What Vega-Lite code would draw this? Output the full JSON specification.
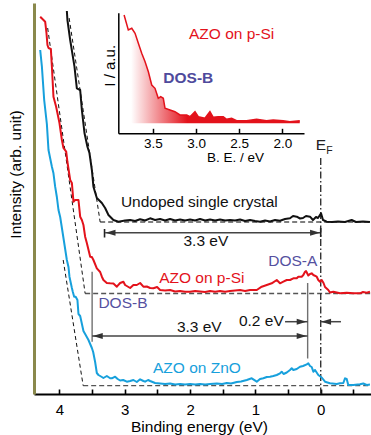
{
 "$schema": "https://vega.github.io/schema/vega-lite/v6.json",
 "width": 337, "height": 391,
 "autosize": {"type": "none"},
 "padding": {"left": 34, "top": 3, "right": 0, "bottom": 41},
 "background": "white",
 "config": {"view": {"stroke": null}, "font": "Liberation Sans", "axis": {"grid": false}},
 "datasets": {
  "curves": [
   {"s":"u","E":3.887,"I":383},{"s":"u","E":3.878,"I":374},{"s":"u","E":3.836,"I":354},{"s":"u","E":3.770,"I":327.3},{"s":"u","E":3.734,"I":305.7},{"s":"u","E":3.683,"I":304},{"s":"u","E":3.657,"I":284},{"s":"u","E":3.617,"I":261},{"s":"u","E":3.572,"I":247.3},{"s":"u","E":3.541,"I":241},{"s":"u","E":3.504,"I":224},{"s":"u","E":3.480,"I":207.3},{"s":"u","E":3.428,"I":196},{"s":"u","E":3.351,"I":191},{"s":"u","E":3.301,"I":186},{"s":"u","E":3.250,"I":179},{"s":"u","E":3.174,"I":174},{"s":"u","E":3.097,"I":172.3},{"s":"u","E":2.995,"I":173.5},{"s":"u","E":2.918,"I":174},{"s":"u","E":2.842,"I":173},{"s":"u","E":2.766,"I":174.7},{"s":"u","E":2.689,"I":173.5},{"s":"u","E":2.612,"I":175.7},{"s":"u","E":2.536,"I":174},{"s":"u","E":2.459,"I":175},{"s":"u","E":2.383,"I":173.5},{"s":"u","E":2.306,"I":175},{"s":"u","E":2.230,"I":173.5},{"s":"u","E":2.153,"I":174.5},{"s":"u","E":2.077,"I":173.5},{"s":"u","E":2.000,"I":174.5},{"s":"u","E":1.923,"I":173.5},{"s":"u","E":1.847,"I":175},{"s":"u","E":1.770,"I":173.5},{"s":"u","E":1.694,"I":174.5},{"s":"u","E":1.617,"I":173.5},{"s":"u","E":1.541,"I":174.5},{"s":"u","E":1.464,"I":173.5},{"s":"u","E":1.388,"I":174},{"s":"u","E":1.311,"I":173.5},{"s":"u","E":1.235,"I":174.5},{"s":"u","E":1.158,"I":173},{"s":"u","E":1.082,"I":174},{"s":"u","E":1.005,"I":173},{"s":"u","E":0.929,"I":172.3},{"s":"u","E":0.852,"I":173.5},{"s":"u","E":0.776,"I":172.5},{"s":"u","E":0.699,"I":174},{"s":"u","E":0.623,"I":173.3},{"s":"u","E":0.546,"I":175},{"s":"u","E":0.470,"I":175.7},{"s":"u","E":0.424,"I":178},{"s":"u","E":0.367,"I":177.3},{"s":"u","E":0.317,"I":175.5},{"s":"u","E":0.271,"I":176},{"s":"u","E":0.225,"I":178},{"s":"u","E":0.164,"I":177.3},{"s":"u","E":0.118,"I":174},{"s":"u","E":0.072,"I":177},{"s":"u","E":0.041,"I":176},{"s":"u","E":-0.005,"I":180.7},{"s":"u","E":-0.035,"I":174},{"s":"u","E":-0.092,"I":172.3},{"s":"u","E":-0.173,"I":172},{"s":"u","E":-0.265,"I":172.5},{"s":"u","E":-0.372,"I":172},{"s":"u","E":-0.474,"I":174},{"s":"u","E":-0.540,"I":172},{"s":"u","E":-0.647,"I":172.5},{"s":"u","E":-0.754,"I":172},
   {"s":"p","E":4.295,"I":377.3},{"s":"p","E":4.245,"I":374},{"s":"p","E":4.219,"I":372.3},{"s":"p","E":4.199,"I":361},{"s":"p","E":4.184,"I":349},{"s":"p","E":4.168,"I":346},{"s":"p","E":4.132,"I":345},{"s":"p","E":4.116,"I":327.3},{"s":"p","E":4.092,"I":297.3},{"s":"p","E":4.051,"I":287.3},{"s":"p","E":4.000,"I":271},{"s":"p","E":3.963,"I":254},{"s":"p","E":3.939,"I":246},{"s":"p","E":3.897,"I":242.3},{"s":"p","E":3.878,"I":232},{"s":"p","E":3.836,"I":214},{"s":"p","E":3.810,"I":211},{"s":"p","E":3.786,"I":192.3},{"s":"p","E":3.760,"I":194},{"s":"p","E":3.709,"I":194},{"s":"p","E":3.683,"I":177.3},{"s":"p","E":3.657,"I":174},{"s":"p","E":3.633,"I":169},{"s":"p","E":3.607,"I":157.3},{"s":"p","E":3.581,"I":151},{"s":"p","E":3.530,"I":137.3},{"s":"p","E":3.504,"I":137},{"s":"p","E":3.480,"I":134},{"s":"p","E":3.428,"I":125.7},{"s":"p","E":3.377,"I":122},{"s":"p","E":3.351,"I":117.3},{"s":"p","E":3.327,"I":114},{"s":"p","E":3.275,"I":111},{"s":"p","E":3.224,"I":110.7},{"s":"p","E":3.174,"I":110.5},{"s":"p","E":3.122,"I":107.3},{"s":"p","E":3.071,"I":111},{"s":"p","E":3.021,"I":112.3},{"s":"p","E":2.995,"I":109},{"s":"p","E":2.918,"I":106},{"s":"p","E":2.868,"I":109},{"s":"p","E":2.816,"I":109},{"s":"p","E":2.765,"I":111},{"s":"p","E":2.715,"I":107.3},{"s":"p","E":2.663,"I":107.5},{"s":"p","E":2.612,"I":106},{"s":"p","E":2.562,"I":105.7},{"s":"p","E":2.505,"I":107},{"s":"p","E":2.459,"I":104},{"s":"p","E":2.383,"I":103.5},{"s":"p","E":2.306,"I":104},{"s":"p","E":2.230,"I":102.5},{"s":"p","E":2.153,"I":103},{"s":"p","E":2.077,"I":102.3},{"s":"p","E":2.000,"I":102.3},{"s":"p","E":1.923,"I":103},{"s":"p","E":1.847,"I":102.5},{"s":"p","E":1.770,"I":102},{"s":"p","E":1.694,"I":103},{"s":"p","E":1.617,"I":102.3},{"s":"p","E":1.541,"I":103},{"s":"p","E":1.464,"I":102.3},{"s":"p","E":1.388,"I":103},{"s":"p","E":1.311,"I":103.5},{"s":"p","E":1.235,"I":104},{"s":"p","E":1.158,"I":103},{"s":"p","E":1.082,"I":104},{"s":"p","E":0.979,"I":104},{"s":"p","E":0.903,"I":107.3},{"s":"p","E":0.826,"I":109},{"s":"p","E":0.750,"I":110.7},{"s":"p","E":0.673,"I":114},{"s":"p","E":0.623,"I":110.7},{"s":"p","E":0.572,"I":112.3},{"s":"p","E":0.520,"I":114},{"s":"p","E":0.470,"I":114},{"s":"p","E":0.419,"I":115.7},{"s":"p","E":0.367,"I":115.7},{"s":"p","E":0.343,"I":117.3},{"s":"p","E":0.291,"I":117.3},{"s":"p","E":0.266,"I":119},{"s":"p","E":0.240,"I":122.3},{"s":"p","E":0.225,"I":123},{"s":"p","E":0.190,"I":118.5},{"s":"p","E":0.164,"I":120},{"s":"p","E":0.138,"I":120.7},{"s":"p","E":0.113,"I":119},{"s":"p","E":0.061,"I":117.3},{"s":"p","E":0.037,"I":114},{"s":"p","E":0.011,"I":112.3},{"s":"p","E":-0.015,"I":114},{"s":"p","E":-0.043,"I":111},{"s":"p","E":-0.066,"I":107},{"s":"p","E":-0.116,"I":104},{"s":"p","E":-0.142,"I":101.5},{"s":"p","E":-0.193,"I":102.3},{"s":"p","E":-0.245,"I":101.5},{"s":"p","E":-0.295,"I":100.7},{"s":"p","E":-0.398,"I":101.3},{"s":"p","E":-0.499,"I":100.7},{"s":"p","E":-0.601,"I":100.7},{"s":"p","E":-0.647,"I":102},{"s":"p","E":-0.704,"I":101.3},{"s":"p","E":-0.754,"I":102.3},
   {"s":"z","E":4.295,"I":344},{"s":"z","E":4.269,"I":327.3},{"s":"z","E":4.234,"I":294},{"s":"z","E":4.193,"I":270},{"s":"z","E":4.168,"I":244},{"s":"z","E":4.116,"I":227.3},{"s":"z","E":4.092,"I":220.7},{"s":"z","E":4.066,"I":207.3},{"s":"z","E":4.040,"I":197},{"s":"z","E":4.015,"I":184},{"s":"z","E":3.989,"I":177},{"s":"z","E":3.939,"I":156},{"s":"z","E":3.887,"I":134},{"s":"z","E":3.862,"I":127},{"s":"z","E":3.847,"I":117.3},{"s":"z","E":3.810,"I":106},{"s":"z","E":3.795,"I":102},{"s":"z","E":3.775,"I":97.3},{"s":"z","E":3.752,"I":97.3},{"s":"z","E":3.725,"I":94},{"s":"z","E":3.709,"I":80},{"s":"z","E":3.683,"I":78},{"s":"z","E":3.633,"I":63},{"s":"z","E":3.607,"I":60},{"s":"z","E":3.556,"I":54},{"s":"z","E":3.504,"I":46},{"s":"z","E":3.484,"I":42},{"s":"z","E":3.454,"I":32},{"s":"z","E":3.428,"I":21},{"s":"z","E":3.403,"I":19},{"s":"z","E":3.351,"I":17},{"s":"z","E":3.327,"I":16},{"s":"z","E":3.275,"I":18},{"s":"z","E":3.224,"I":15.7},{"s":"z","E":3.198,"I":15.7},{"s":"z","E":3.148,"I":17.3},{"s":"z","E":3.109,"I":15},{"s":"z","E":3.071,"I":13.5},{"s":"z","E":3.025,"I":14},{"s":"z","E":2.969,"I":12.3},{"s":"z","E":2.918,"I":13},{"s":"z","E":2.868,"I":14},{"s":"z","E":2.816,"I":12},{"s":"z","E":2.765,"I":14.7},{"s":"z","E":2.715,"I":13},{"s":"z","E":2.689,"I":12.3},{"s":"z","E":2.643,"I":14},{"s":"z","E":2.612,"I":13},{"s":"z","E":2.536,"I":11},{"s":"z","E":2.459,"I":10.5},{"s":"z","E":2.383,"I":10},{"s":"z","E":2.306,"I":10.5},{"s":"z","E":2.230,"I":9.5},{"s":"z","E":2.153,"I":10},{"s":"z","E":2.077,"I":9.5},{"s":"z","E":2.000,"I":10},{"s":"z","E":1.923,"I":9.5},{"s":"z","E":1.847,"I":10},{"s":"z","E":1.770,"I":9.5},{"s":"z","E":1.694,"I":10},{"s":"z","E":1.591,"I":10.5},{"s":"z","E":1.510,"I":10},{"s":"z","E":1.438,"I":11},{"s":"z","E":1.373,"I":10.5},{"s":"z","E":1.285,"I":12},{"s":"z","E":1.220,"I":12.5},{"s":"z","E":1.132,"I":14},{"s":"z","E":1.056,"I":15.7},{"s":"z","E":0.979,"I":12.3},{"s":"z","E":0.929,"I":15},{"s":"z","E":0.878,"I":15.7},{"s":"z","E":0.826,"I":17},{"s":"z","E":0.776,"I":17.3},{"s":"z","E":0.725,"I":18},{"s":"z","E":0.673,"I":19},{"s":"z","E":0.623,"I":20.7},{"s":"z","E":0.597,"I":22.3},{"s":"z","E":0.569,"I":20},{"s":"z","E":0.520,"I":21.5},{"s":"z","E":0.470,"I":24},{"s":"z","E":0.444,"I":25.7},{"s":"z","E":0.419,"I":24},{"s":"z","E":0.367,"I":25},{"s":"z","E":0.317,"I":27.3},{"s":"z","E":0.271,"I":28},{"s":"z","E":0.214,"I":29.7},{"s":"z","E":0.190,"I":30.7},{"s":"z","E":0.164,"I":28},{"s":"z","E":0.138,"I":27},{"s":"z","E":0.113,"I":22.3},{"s":"z","E":0.087,"I":24},{"s":"z","E":0.037,"I":19},{"s":"z","E":-0.015,"I":16.5},{"s":"z","E":-0.066,"I":12.3},{"s":"z","E":-0.142,"I":10.7},{"s":"z","E":-0.245,"I":10},{"s":"z","E":-0.295,"I":10.7},{"s":"z","E":-0.346,"I":11},{"s":"z","E":-0.372,"I":15.7},{"s":"z","E":-0.398,"I":15},{"s":"z","E":-0.422,"I":9},{"s":"z","E":-0.499,"I":9},{"s":"z","E":-0.601,"I":9.7},{"s":"z","E":-0.652,"I":10.5},{"s":"z","E":-0.704,"I":9},{"s":"z","E":-0.754,"I":9.5}
  ],
  "guidesSlope": [
   {"g":"u","E":3.852,"I":376},{"g":"u","E":3.377,"I":172},
   {"g":"p","E":4.181,"I":366},{"g":"p","E":3.607,"I":100.5},
   {"g":"z","E":3.943,"I":134},{"g":"z","E":3.637,"I":8.3}
  ],
  "guidesFlat": [
   {"g":"u","E":3.377,"I":172},{"g":"u","E":-0.77,"I":172},
   {"g":"p","E":3.607,"I":100.5},{"g":"p","E":-0.77,"I":100.5},
   {"g":"z","E":3.637,"I":8.3},{"g":"z","E":-0.77,"I":8.3}
  ],
  "hrules": [
   {"E":3.3,"E2":0,"I":161.3},
   {"E":3.5,"E2":0.2,"I":58},
   {"E":0.546,"E2":0.2,"I":72.3},
   {"E":-0.31,"E2":0,"I":72.3}
  ],
  "heads": [
   {"E":3.295,"I":161.3,"dir":"left"},
   {"E":0.01,"I":161.3,"dir":"right"},
   {"E":3.49,"I":58,"dir":"left"},
   {"E":0.215,"I":58,"dir":"right"},
   {"E":0.215,"I":72.3,"dir":"right"},
   {"E":-0.005,"I":72.3,"dir":"left"}
  ],
  "bars": [
   {"E":3.31,"I":165,"I2":156.5},
   {"E":0,"I":166,"I2":157}
  ],
  "dosLines": [
   {"E":3.5,"I":122.3,"I2":52.3},
   {"E":0.2,"I":111,"I2":35.5}
  ],
  "fermi": [
   {"E":0,"I":236,"I2":0}
  ],
  "labels": [
   {"s":"u","t":"Undoped single crystal","E":1.859,"I":191.7},
   {"s":"u","t":"3.3 eV","E":1.758,"I":153},
   {"s":"p","t":"AZO on p-Si","E":1.821,"I":115.7},
   {"s":"d","t":"DOS-B","E":3.028,"I":90.7},
   {"s":"u","t":"3.3 eV","E":1.859,"I":67.3},
   {"s":"u","t":"0.2 eV","E":0.909,"I":73},
   {"s":"d","t":"DOS-A","E":0.427,"I":133.3},
   {"s":"z","t":"AZO on ZnO","E":1.895,"I":26.3}
  ],
  "ef": [
   {"t":"E","E":-0.005,"I":249,"k":"main"},
   {"t":"F","E":-0.132,"I":243,"k":"sub"}
  ],
  "inset": [
   {"E":3.833,"v":118.3},{"E":3.784,"v":103.3},{"E":3.744,"v":105},{"E":3.706,"v":100},{"E":3.668,"v":90},{"E":3.629,"v":80},{"E":3.590,"v":71.6},{"E":3.552,"v":61.6},{"E":3.513,"v":48.3},{"E":3.475,"v":45},{"E":3.437,"v":35},{"E":3.409,"v":36.6},{"E":3.379,"v":35},{"E":3.359,"v":25},{"E":3.301,"v":23.3},{"E":3.244,"v":21.6},{"E":3.186,"v":18.3},{"E":3.108,"v":18.3},{"E":3.070,"v":16.6},{"E":3.012,"v":21.6},{"E":2.974,"v":16.6},{"E":2.897,"v":15},{"E":2.839,"v":21.6},{"E":2.801,"v":16},{"E":2.743,"v":16.6},{"E":2.685,"v":16.6},{"E":2.646,"v":14},{"E":2.588,"v":15},{"E":2.530,"v":12.6},{"E":2.415,"v":12.6},{"E":2.299,"v":14},{"E":2.184,"v":12.6},{"E":2.107,"v":13.3},{"E":1.992,"v":12.6},{"E":1.914,"v":11.6},{"E":1.799,"v":12.6}
  ],
  "insetLabels": [
   {"t":"AZO on p-Si","E":2.588,"v":99,"k":"sample"},
   {"t":"DOS-B","E":3.090,"v":55.3,"k":"dos"}
  ]
 },
 "layer": [
  {
   "data": {"name": "guidesFlat"},
   "mark": {"type": "line", "color": "#555555", "strokeWidth": 1.3, "strokeDash": [5, 3]},
   "encoding": {
    "x": {"field": "E", "type": "quantitative",
      "scale": {"domain": [4.39, -0.77], "nice": false, "zero": false},
      "axis": {"orient": "bottom", "values": [4, 3.5, 3, 2.5, 2, 1.5, 1, 0.5, 0, -0.5],
        "labelExpr": "datum.value % 1 == 0 ? format(datum.value, 'd') : ''",
        "tickSize": -5, "tickWidth": 1.6, "tickColor": "#000000",
        "domainColor": "#000000", "domainWidth": 2,
        "labelFontSize": 15, "labelColor": "#000000", "labelPadding": 13.5, "labelFlush": false, "labelOverlap": false,
        "title": "Binding energy (eV)", "titleFontSize": 15.5, "titleFontWeight": "normal", "titleColor": "#000000",
        "titleX": 165, "titleY": 32.5, "titleBaseline": "middle", "titleAlign": "center"}},
    "y": {"field": "I", "type": "quantitative",
      "scale": {"domain": [0, 391], "nice": false, "zero": false},
      "axis": {"orient": "left", "ticks": false, "labels": false,
        "domainColor": "#8a894c", "domainWidth": 3,
        "title": "Intensity (arb. unit)", "titleFontSize": 15.5, "titleFontWeight": "normal", "titleColor": "#000000",
        "titleX": -19, "titleY": 171, "titleBaseline": "middle", "titleAlign": "center", "titleAngle": -90}},
    "detail": {"field": "g"}
   }
  },
  {
   "data": {"name": "guidesSlope"},
   "mark": {"type": "line", "color": "#111111", "strokeWidth": 1, "strokeDash": [4, 3]},
   "encoding": {
    "x": {"field": "E", "type": "quantitative", "scale": {"domain": [4.39, -0.77], "nice": false, "zero": false}, "axis": null},
    "y": {"field": "I", "type": "quantitative", "scale": {"domain": [0, 391], "nice": false, "zero": false}, "axis": null},
    "detail": {"field": "g"}
   }
  },
  {
   "data": {"name": "fermi"},
   "mark": {"type": "rule", "color": "#333333", "strokeWidth": 1.4, "strokeDash": [7, 2.5, 1.5, 2.5]},
   "encoding": {
    "x": {"field": "E", "type": "quantitative", "scale": {"domain": [4.39, -0.77], "nice": false, "zero": false}, "axis": null},
    "y": {"field": "I", "type": "quantitative", "scale": {"domain": [0, 391], "nice": false, "zero": false}, "axis": null},
    "y2": {"field": "I2"}
   }
  },
  {
   "data": {"name": "curves"},
   "mark": {"type": "line", "strokeWidth": 2, "strokeJoin": "round"},
   "encoding": {
    "x": {"field": "E", "type": "quantitative", "scale": {"domain": [4.39, -0.77], "nice": false, "zero": false}, "axis": null},
    "y": {"field": "I", "type": "quantitative", "scale": {"domain": [0, 391], "nice": false, "zero": false}, "axis": null},
    "color": {"field": "s", "type": "nominal", "legend": null,
      "scale": {"domain": ["u", "p", "z", "d"], "range": ["#111111", "#e3121b", "#17a0dc", "#55509f"]}}
   }
  },
  {
   "data": {"name": "dosLines"},
   "mark": {"type": "rule", "color": "#707070", "strokeWidth": 1.4},
   "encoding": {
    "x": {"field": "E", "type": "quantitative", "scale": {"domain": [4.39, -0.77], "nice": false, "zero": false}, "axis": null},
    "y": {"field": "I", "type": "quantitative", "scale": {"domain": [0, 391], "nice": false, "zero": false}, "axis": null},
    "y2": {"field": "I2"}
   }
  },
  {
   "data": {"name": "hrules"},
   "mark": {"type": "rule", "color": "#444444", "strokeWidth": 1.5},
   "encoding": {
    "x": {"field": "E", "type": "quantitative", "scale": {"domain": [4.39, -0.77], "nice": false, "zero": false}, "axis": null},
    "x2": {"field": "E2"},
    "y": {"field": "I", "type": "quantitative", "scale": {"domain": [0, 391], "nice": false, "zero": false}, "axis": null}
   }
  },
  {
   "data": {"name": "bars"},
   "mark": {"type": "rule", "color": "#222222", "strokeWidth": 1.6},
   "encoding": {
    "x": {"field": "E", "type": "quantitative", "scale": {"domain": [4.39, -0.77], "nice": false, "zero": false}, "axis": null},
    "y": {"field": "I", "type": "quantitative", "scale": {"domain": [0, 391], "nice": false, "zero": false}, "axis": null},
    "y2": {"field": "I2"}
   }
  },
  {
   "data": {"name": "heads"},
   "mark": {"type": "point", "filled": true, "color": "#333333", "size": 100, "opacity": 1, "strokeWidth": 0},
   "encoding": {
    "x": {"field": "E", "type": "quantitative", "scale": {"domain": [4.39, -0.77], "nice": false, "zero": false}, "axis": null},
    "y": {"field": "I", "type": "quantitative", "scale": {"domain": [0, 391], "nice": false, "zero": false}, "axis": null},
    "shape": {"field": "dir", "type": "nominal", "legend": null,
      "scale": {"domain": ["right", "left"], "range": ["M0,0L-2,-0.6L-2,0.6Z", "M0,0L2,-0.6L2,0.6Z"]}}
   }
  },
  {
   "data": {"name": "labels"},
   "mark": {"type": "text", "fontSize": 15.5, "align": "center", "baseline": "middle"},
   "encoding": {
    "x": {"field": "E", "type": "quantitative", "scale": {"domain": [4.39, -0.77], "nice": false, "zero": false}, "axis": null},
    "y": {"field": "I", "type": "quantitative", "scale": {"domain": [0, 391], "nice": false, "zero": false}, "axis": null},
    "text": {"field": "t"},
    "color": {"field": "s", "type": "nominal", "legend": null}
   }
  },
  {
   "data": {"name": "ef"},
   "transform": [{"filter": "datum.k == 'main'"}],
   "mark": {"type": "text", "fontSize": 15.5, "align": "center", "baseline": "middle", "color": "#222222"},
   "encoding": {
    "x": {"field": "E", "type": "quantitative", "scale": {"domain": [4.39, -0.77], "nice": false, "zero": false}, "axis": null},
    "y": {"field": "I", "type": "quantitative", "scale": {"domain": [0, 391], "nice": false, "zero": false}, "axis": null},
    "text": {"field": "t"}
   }
  },
  {
   "data": {"name": "ef"},
   "transform": [{"filter": "datum.k == 'sub'"}],
   "mark": {"type": "text", "fontSize": 10.5, "align": "center", "baseline": "middle", "color": "#222222"},
   "encoding": {
    "x": {"field": "E", "type": "quantitative", "scale": {"domain": [4.39, -0.77], "nice": false, "zero": false}, "axis": null},
    "y": {"field": "I", "type": "quantitative", "scale": {"domain": [0, 391], "nice": false, "zero": false}, "axis": null},
    "text": {"field": "t"}
   }
  },
  {
   "data": {"name": "inset"},
   "mark": {"type": "area", "color": {"gradient": "linear", "x1": 0, "x2": 1, "y1": 0, "y2": 0,
     "stops": [{"offset": 0, "color": "#ffffff"}, {"offset": 0.04, "color": "#ffffff"}, {"offset": 0.36, "color": "#e3121b"}, {"offset": 1, "color": "#e3121b"}]}},
   "encoding": {
    "x": {"field": "E", "type": "quantitative",
      "scale": {"domain": [3.9, 1.75], "range": [84.3, 270], "nice": false, "zero": false},
      "axis": {"orient": "bottom", "offset": -260.7, "values": [3.5, 3, 2.5, 2], "format": ".1f",
        "tickSize": -5, "tickWidth": 1.5, "tickColor": "#000000",
        "domainColor": "#000000", "domainWidth": 1.5,
        "labelFontSize": 13.5, "labelColor": "#000000", "labelPadding": 8.5, "labelFlush": false,
        "title": "B. E. / eV", "titleFontSize": 13.5, "titleFontWeight": "normal", "titleColor": "#000000",
        "titleX": 201, "titleY": 24.5, "titleBaseline": "middle", "titleAlign": "center"}},
    "y": {"field": "v", "type": "quantitative",
      "scale": {"domain": [0, 120.6], "range": [130.3, 9.7], "nice": false, "zero": false},
      "axis": {"orient": "left", "offset": -84.3, "ticks": false, "labels": false,
        "domainColor": "#000000", "domainWidth": 1.5,
        "title": "I / a.u.", "titleFontSize": 15, "titleFontWeight": "normal", "titleColor": "#000000",
        "titleX": -8.5, "titleY": 62.3, "titleBaseline": "middle", "titleAlign": "center", "titleAngle": -90}},
    "y2": {"datum": 10}
   }
  },
  {
   "data": {"name": "inset"},
   "mark": {"type": "line", "color": "#e3121b", "strokeWidth": 1.5},
   "encoding": {
    "x": {"field": "E", "type": "quantitative", "scale": {"domain": [3.9, 1.75], "range": [84.3, 270], "nice": false, "zero": false}, "axis": null},
    "y": {"field": "v", "type": "quantitative", "scale": {"domain": [0, 120.6], "range": [130.3, 9.7], "nice": false, "zero": false}, "axis": null}
   }
  },
  {
   "data": {"name": "insetLabels"},
   "transform": [{"filter": "datum.k == 'sample'"}],
   "mark": {"type": "text", "fontSize": 15.5, "align": "center", "baseline": "middle", "color": "#e3121b"},
   "encoding": {
    "x": {"field": "E", "type": "quantitative", "scale": {"domain": [3.9, 1.75], "range": [84.3, 270], "nice": false, "zero": false}, "axis": null},
    "y": {"field": "v", "type": "quantitative", "scale": {"domain": [0, 120.6], "range": [130.3, 9.7], "nice": false, "zero": false}, "axis": null},
    "text": {"field": "t"}
   }
  },
  {
   "data": {"name": "insetLabels"},
   "transform": [{"filter": "datum.k == 'dos'"}],
   "mark": {"type": "text", "fontSize": 15.5, "fontWeight": "bold", "align": "center", "baseline": "middle", "color": "#4f4a9c"},
   "encoding": {
    "x": {"field": "E", "type": "quantitative", "scale": {"domain": [3.9, 1.75], "range": [84.3, 270], "nice": false, "zero": false}, "axis": null},
    "y": {"field": "v", "type": "quantitative", "scale": {"domain": [0, 120.6], "range": [130.3, 9.7], "nice": false, "zero": false}, "axis": null},
    "text": {"field": "t"}
   }
  }
 ],
 "resolve": {"scale": {"x": "independent", "y": "independent"}, "axis": {"x": "independent", "y": "independent"}}
}
